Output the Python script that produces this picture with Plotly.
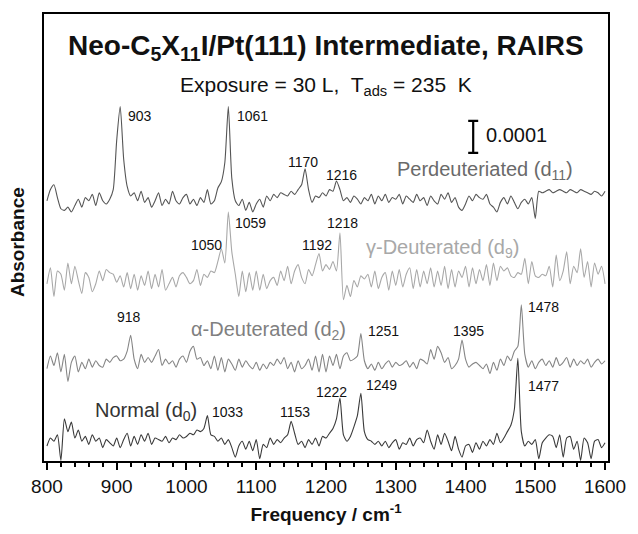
import numpy as np
import plotly.graph_objects as go

# Frequency grid (cm^-1), 5 cm^-1 spacing
freq = list(range(800, 1601, 5))

# Absorbance values in units of 1e-4 (relative to each trace's own baseline)
perdeut_d11 = [
    0.0, 0.35, 0.5, 0.1, -0.25, -0.3, -0.2, -0.35, -0.15, 0.05,
    -0.2, 0.1, 0.0, 0.2, -0.15, 0.25, 0.0, -0.1, 0.05, 0.35,
    1.9, 2.95, 1.3, 0.45, 0.15, 0.25, 0.0, 0.3, -0.05, 0.1,
    -0.2, 0.0, 0.25, -0.15, 0.05, -0.1, 0.3, 0.0, -0.1, 0.1,
    0.2, -0.1, 0.05, -0.15, 0.1, -0.05, 0.35, -0.1, 0.0, 0.4,
    0.6, 1.2, 2.95, 0.7, 0.0, -0.15, 0.05, -0.3, -0.05, -0.35,
    -0.1, 0.05, -0.2, 0.15, 0.0, 0.2, 0.1, 0.25, 0.2, 0.15,
    0.3, 0.2, 0.35, 0.5, 1.0, 0.35, -0.05, 0.15, 0.1, 0.25,
    0.15, 0.35, 0.3, 0.62, 0.35, 0.0, 0.1, -0.05, 0.15, 0.05,
    -0.1, 0.1, 0.0, 0.2, -0.1, 0.15, 0.0, 0.2, -0.05, 0.1,
    0.05, 0.2, -0.1, 0.15, 0.05, -0.05, 0.2, 0.0, 0.1, -0.15,
    0.15, 0.0, -0.1, 0.2, 0.05, 0.25, -0.05, 0.1, -0.2, -0.3,
    -0.1, 0.15, 0.0, 0.2, 0.1, 0.05, 0.2, -0.1, -0.2, -0.35,
    -0.05, 0.1, -0.1, 0.15, -0.05, -0.25, -0.05, 0.05, -0.1, 0.1,
    -0.55, 0.3, 0.25, 0.3, 0.35, 0.25, 0.3, 0.35, 0.3, 0.25,
    0.35, 0.3, 0.25, 0.35, 0.3, 0.25, 0.2, 0.3, 0.25, 0.15,
    0.3,
]

gamma_d9 = [
    -0.1, 0.4, -0.5, 0.3, 0.2, -0.3, 0.55, -0.1, 0.45, 0.0,
    -0.4, 0.25, 0.1, -0.35, -0.1, 0.3, 0.0, 0.35, 0.25, 0.2,
    -0.05, 0.15, -0.2, 0.25, -0.25, 0.2, -0.3, 0.15, -0.15, 0.3,
    -0.25, 0.2, -0.2, 0.35, -0.3, -0.1, 0.1, -0.2, 0.15, 0.25,
    0.1, -0.1, 0.0, 0.35, -0.15, 0.2, 0.1, 0.3, 0.25, 0.6,
    1.0, 0.55, 2.15, 0.9, 0.2, -0.5, 0.3, -0.35, 0.25, -0.3,
    0.3, -0.3, 0.2, -0.25, 0.0, 0.1, -0.15, 0.3, 0.0, 0.45,
    -0.1, 0.3, 0.5, 0.1, -0.1, 0.35, 0.15, 0.5, 0.85, 0.3,
    0.5, 0.35, 0.6, 0.3, 1.5, -0.6, -0.15, -0.5, 0.0, -0.2,
    0.15, 0.05, 0.2, -0.2, 0.3, -0.25, 0.1, 0.25, -0.3, 0.3,
    -0.15, 0.35, -0.2, 0.2, 0.4, -0.25, 0.35, -0.2, 0.3, -0.1,
    0.4, -0.2, 0.3, -0.15, 0.45, -0.25, 0.35, -0.2, 0.3, 0.1,
    0.45, -0.2, 0.4, -0.1, 0.35, 0.0, 0.5, -0.15, 0.55, 0.0,
    0.45, 0.3, 0.4, 0.15, 0.1, 0.25, 0.2, 0.7, -0.1, 0.6,
    0.15, 0.1, 0.2, 0.15, 0.45, -0.2, 0.8, 0.0, 0.3, 0.9,
    -0.1, 0.45, 0.25, 1.0, 0.1, 0.6, -0.2, 0.55, 0.2, 0.45,
    -0.1,
]

alpha_d2 = [
    -0.1, 0.3, 0.0, 0.4, -0.2, 0.35, -0.5, 0.1, 0.3, -0.2,
    0.1, -0.1, 0.2, -0.05, 0.15, 0.0, -0.05, 0.2, 0.1, 0.25,
    0.3, 0.15, 0.2, 0.45, 0.95, 0.2, -0.1, 0.35, 0.1, 0.25,
    0.1, 0.3, 0.5, 0.0, 0.2, 0.05, 0.15, -0.05, 0.2, 0.3,
    0.1, 0.45, 0.6, 0.2, 0.25, 0.0, 0.15, -0.1, 0.3, -0.15,
    0.25, -0.2, 0.2, 0.05, -0.15, 0.2, -0.05, 0.15, 0.0, -0.1,
    0.1, -0.15, 0.05, -0.1, 0.1, 0.0, 0.2, 0.05, 0.25, -0.1,
    0.1, -0.2, 0.15, -0.1, 0.0, 0.2, -0.15, 0.3, -0.2, 0.35,
    -0.2, 0.3, 0.0, 0.35, -0.1, 0.3, 0.4, 0.15, 0.2, 0.3,
    1.0, 0.15, -0.1, 0.05, -0.15, 0.1, -0.1, 0.05, 0.15, -0.05,
    0.1, 0.0, 0.05, 0.15, -0.05, 0.1, -0.1, 0.2, 0.15, 0.05,
    0.5, 0.2, 0.6, 0.4, 0.1, 0.25, -0.1, 0.0, 0.2, 0.8,
    0.2, -0.05, 0.05, 0.1, 0.0, -0.1, 0.05, -0.25, 0.1, -0.15,
    0.2, 0.0, 0.3, 0.15, 0.45, 0.6, 1.9, 0.35, -0.05, 0.15,
    -0.1, 0.1, 0.2, 0.0, 0.15, -0.05, 0.25, 0.0, 0.1, 0.25,
    -0.05, 0.2, 0.0, 0.15, 0.05, 0.2, -0.05, 0.1, 0.2, 0.05,
    0.15,
]

normal_d0 = [
    -0.05, 0.2, 0.1, 0.3, -0.5, 0.8, 0.4, 0.7, 0.2, 0.45,
    0.1, 0.25, 0.0, 0.3, 0.1, 0.2, -0.1, 0.15, 0.05, -0.05,
    0.2, -0.1, 0.15, 0.35, -0.05, 0.25, 0.0, 0.3, 0.1, 0.35,
    0.0, 0.2, 0.15, 0.1, 0.25, 0.05, 0.2, 0.15, 0.3, 0.2,
    0.25, 0.35, 0.3, 0.45, 0.4, 0.5, 0.9, 0.3, 0.25, 0.1,
    0.2, 0.0, 0.15, -0.1, -0.4, -0.05, 0.1, -0.15, 0.1, -0.2,
    0.15, -0.45, 0.0, -0.1, 0.2, 0.0, 0.15, 0.05, 0.2, 0.3,
    0.72, 0.35, 0.0, 0.1, -0.1, 0.15, 0.0, 0.2, -0.05, 0.25,
    0.2, 0.35, 0.5, 0.8, 1.45, 0.3, 0.1, 0.25, 0.55, 0.9,
    1.6, 0.4, 0.15, 0.1, 0.0, 0.1, -0.05, 0.1, -0.1, 0.05,
    0.15, -0.15, 0.05, 0.0, 0.2, -0.05, 0.15, 0.2, 0.05, 0.45,
    0.1, -0.15, 0.3, 0.0, 0.35, 0.1, -0.2, 0.25, -0.15, -0.4,
    -0.05, 0.0, -0.25, 0.05, -0.15, 0.1, -0.05, 0.15, 0.0, 0.35,
    0.05, 0.2, 0.4, 0.6, 1.1, 2.7, 0.4, -0.05, 0.1, 0.0,
    0.15, -0.45, 0.05, 0.2, 0.3, 0.25, -0.1, 0.3, -0.4, 0.2,
    0.25, -0.15, 0.1, -0.5, 0.2, 0.05, -0.45, 0.1, 0.15, -0.1,
    0.05,
]

# Vertical offsets of the stacked traces (units of 1e-4 absorbance)
series_names = ["Perdeuteriated (d11)", "γ-Deuterated (d9)", "α-Deuterated (d2)", "Normal (d0)"]
series_values = [perdeut_d11, gamma_d9, alpha_d2, normal_d0]
series_offsets = [8.15, 5.65, 2.99, 0.52]
series_colors = ["#555555", "#a8a8a8", "#858585", "#3a3a3a"]

# Trace labels: text, x (cm^-1), y (1e-4 abs), colour
trace_label_text = ["Perdeuteriated (d<sub>11</sub>)", "γ-Deuterated (d<sub>9</sub>)",
                    "α-Deuterated (d<sub>2</sub>)", "Normal (d<sub>0</sub>)"]
trace_label_x = [1428, 1367, 1118, 942]
trace_label_y = [9.1, 6.65, 4.1, 1.55]
trace_label_colors = ["#6a6a6a", "#a8a8a8", "#808080", "#333333"]

# Peak labels: text, x, y, anchor
peak_text = ["903", "1061", "1170", "1216",
             "1059", "1050", "1192", "1218",
             "918", "1251", "1395", "1478",
             "1033", "1153", "1222", "1249", "1477"]
peak_x = [913, 1069, 1167, 1222,
          1066, 1028, 1187, 1223,
          918, 1257, 1404, 1486,
          1034, 1155, 1208, 1254, 1487]
peak_y = [10.8, 10.8, 9.35, 8.95,
          7.45, 6.75, 6.75, 7.45,
          4.5, 4.08, 4.08, 4.83,
          1.55, 1.55, 2.17, 2.37, 2.34]
peak_anchor = ["left", "left", "center", "center",
               "left", "center", "center", "center",
               "center", "left", "center", "left",
               "left", "center", "center", "left", "left"]

# Scale bar: 0.0001 absorbance = 1 unit
scale_bar_x = 1411
scale_bar_center = 10.15
scale_bar_length = 1.0

FONT = "Liberation Sans, Arial, Helvetica, sans-serif"

fig = go.Figure()
for vals, off, col, name in zip(series_values, series_offsets, series_colors, series_names):
    fig.add_trace(go.Scatter(
        x=freq, y=np.array(vals) + off, mode="lines",
        line=dict(color=col, width=1.1, shape="spline", smoothing=0.6),
        name=name, showlegend=False, hoverinfo="skip"))

fig.add_trace(go.Scatter(
    x=[scale_bar_x], y=[scale_bar_center], mode="markers",
    marker=dict(size=1, color="black"), showlegend=False, hoverinfo="skip",
    error_y=dict(type="data", array=[scale_bar_length / 2], width=5,
                 thickness=2.2, color="black")))

ann = []
for t, x, y, c in zip(trace_label_text, trace_label_x, trace_label_y, trace_label_colors):
    ann.append(dict(text=t, x=x, y=y, xref="x", yref="y", showarrow=False,
                    font=dict(family=FONT, size=20, color=c), xanchor="center", yanchor="middle"))
for t, x, y, a in zip(peak_text, peak_x, peak_y, peak_anchor):
    ann.append(dict(text=t, x=x, y=y, xref="x", yref="y", showarrow=False,
                    font=dict(family=FONT, size=14, color="#111111"), xanchor=a, yanchor="middle"))
ann.append(dict(text="0.0001", x=scale_bar_x + 15, y=scale_bar_center + 0.05, xref="x", yref="y",
                showarrow=False, xanchor="left", yanchor="middle",
                font=dict(family=FONT, size=20, color="#111111")))
ann.append(dict(text="<b>Neo-C<sub>5</sub>X<sub>11</sub>I/Pt(111) Intermediate, RAIRS</b>",
                x=0.5, y=0.925, xref="paper", yref="paper", showarrow=False,
                xanchor="center", yanchor="middle",
                font=dict(family=FONT, size=28, color="#111111")))
ann.append(dict(text="Exposure = 30 L,  T<sub>ads</sub> = 235  K",
                x=0.5, y=0.838, xref="paper", yref="paper", showarrow=False,
                xanchor="center", yanchor="middle",
                font=dict(family=FONT, size=21, color="#111111")))
ann.append(dict(text="<b>Absorbance</b>", x=-0.046, y=0.49, xref="paper", yref="paper",
                showarrow=False, textangle=-90, xanchor="center", yanchor="middle",
                font=dict(family=FONT, size=19, color="#111111")))

fig.update_layout(
    width=638, height=534,
    margin=dict(l=44, r=21, t=14, b=71),
    paper_bgcolor="white", plot_bgcolor="white",
    annotations=ann,
    xaxis=dict(range=[795.77, 1604.23], showline=True, linewidth=2, linecolor="black",
               mirror=True, ticks="outside", ticklen=7, tickwidth=2, tickcolor="black",
               tick0=800, dtick=100, showgrid=False, zeroline=False,
               tickfont=dict(family=FONT, size=19, color="#111111"),
               minor=dict(dtick=20, ticks="outside", ticklen=4, tickwidth=1.5, tickcolor="black", showgrid=False),
               title=dict(text="<b>Frequency / cm<sup>-1</sup></b>", standoff=12,
                          font=dict(family=FONT, size=19, color="#111111"))),
    yaxis=dict(range=[0, 14.0], showline=True, linewidth=2, linecolor="black", mirror=True,
               ticks="", showticklabels=False, showgrid=False, zeroline=False),
)

fig.write_html("out.html")
